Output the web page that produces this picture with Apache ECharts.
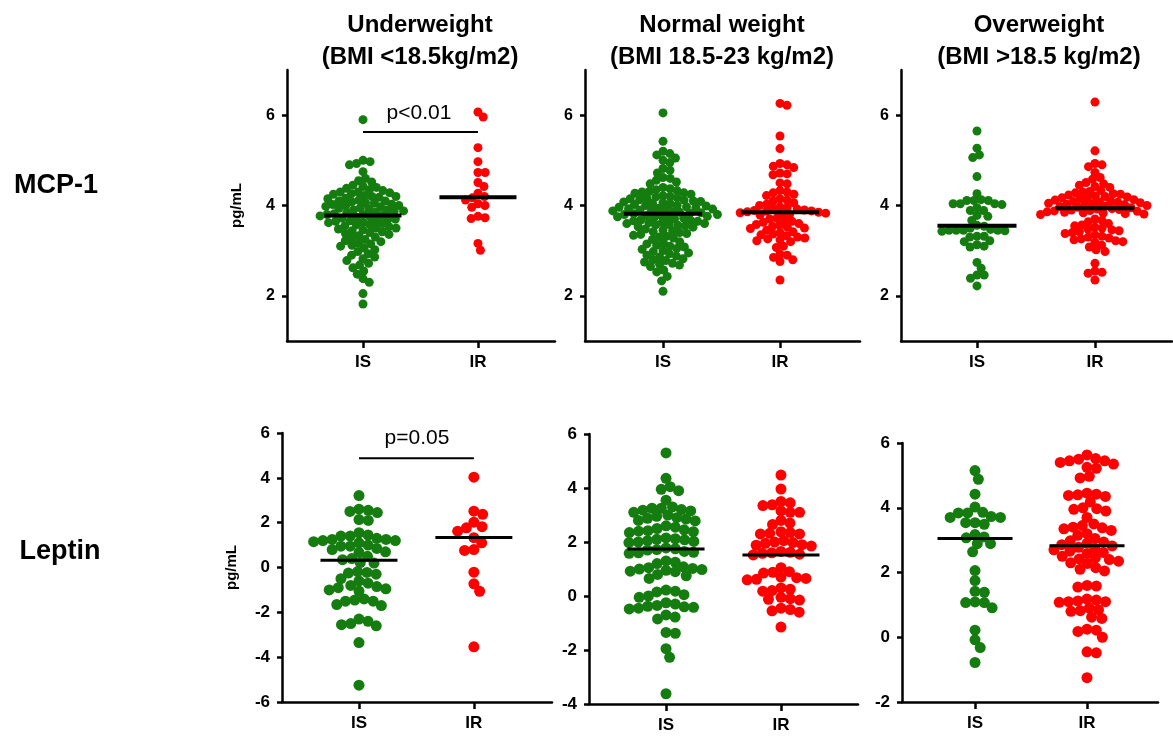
<!DOCTYPE html>
<html>
<head>
<meta charset="utf-8">
<script src="https://cdn.jsdelivr.net/npm/echarts@6/dist/echarts.min.js"></script>
<style>
html, body { margin: 0; padding: 0; background: #fff; }
#chart { width: 1173px; height: 739px; }
</style>
</head>
<body>
<div id="chart"></div>
<script>
// categories and panel titles
const groupNames = ["IS", "IR"];
const bmiTitles = [
  ["Underweight", "(BMI <18.5kg/m2)"],
  ["Normal weight", "(BMI 18.5-23 kg/m2)"],
  ["Overweight", "(BMI >18.5 kg/m2)"]
];
const markers = ["MCP-1", "Leptin"];

// MCP-1 (pg/mL)
const mcpUnderIS = [5.9, 5.0, 4.97, 4.93, 4.9, 4.75, 4.6, 4.55, 4.52, 4.45, 4.42, 4.4, 4.38, 4.35, 4.33, 4.3, 4.3, 4.28, 4.26, 4.25,
  4.22, 4.2, 4.2, 4.18, 4.16, 4.15, 4.12, 4.1, 4.1, 4.08, 4.06, 4.05, 4.03, 4.02, 4.0, 4.0, 3.98, 3.97, 3.95, 3.94, 3.92, 3.9, 3.9,
  3.88, 3.87, 3.85, 3.84, 3.82, 3.8, 3.8, 3.78, 3.77, 3.75, 3.74, 3.72, 3.7, 3.7, 3.68, 3.66, 3.65, 3.63, 3.62, 3.6, 3.58, 3.57,
  3.55, 3.53, 3.5, 3.5, 3.48, 3.46, 3.44, 3.42, 3.4, 3.38, 3.36, 3.33, 3.3, 3.28, 3.25, 3.22, 3.2, 3.17, 3.15, 3.12, 3.1, 3.06,
  3.02, 2.98, 2.93, 2.9, 2.86, 2.82, 2.78, 2.72, 2.68, 2.62, 2.55, 2.48, 2.38, 2.3, 2.05, 1.82];
const mcpUnderIR = [6.07, 5.96, 5.28, 4.97, 4.73, 4.73, 4.51, 4.42, 4.27, 4.2, 4.17, 4.12, 4.04, 4.0, 3.96, 3.76, 3.73, 3.71, 3.16, 3.01];
const mcpNormIS = [6.05, 5.42, 5.2, 5.15, 5.12, 5.05, 5.0, 4.95, 4.82, 4.78, 4.72, 4.62, 4.6, 4.56, 4.52, 4.48,
  4.4, 4.37, 4.35, 4.33, 4.31, 4.3, 4.28, 4.27, 4.25, 4.22, 4.2, 4.19, 4.17, 4.16, 4.15, 4.13, 4.12, 4.1, 4.09, 4.08, 4.06,
  4.05, 4.04, 4.02, 4.0, 4.0, 3.99, 3.97, 3.96, 3.95, 3.94, 3.93, 3.92, 3.91, 3.9, 3.89, 3.88, 3.86, 3.85, 3.84, 3.83, 3.82,
  3.8, 3.8, 3.79, 3.78, 3.76, 3.75, 3.74, 3.73, 3.72, 3.7, 3.68, 3.67, 3.66, 3.65, 3.63, 3.62, 3.6, 3.6, 3.58, 3.57, 3.56,
  3.55, 3.53, 3.52, 3.48, 3.46, 3.44, 3.42, 3.4, 3.38, 3.36, 3.34, 3.32, 3.3, 3.28, 3.25, 3.2, 3.17, 3.15, 3.12, 3.1, 3.08,
  3.05, 3.03, 3.0, 2.98, 2.95, 2.93, 2.9, 2.88, 2.86, 2.82, 2.8, 2.78, 2.75, 2.72, 2.7, 2.68, 2.65, 2.57, 2.53, 2.43, 2.33, 2.1];
const mcpNormIR = [6.26, 6.22, 5.54, 5.26, 4.93, 4.9, 4.87, 4.84, 4.72, 4.7, 4.68, 4.5, 4.48, 4.33, 4.3, 4.28, 4.25, 4.22,
  4.15, 4.12, 4.1, 4.06, 4.03, 4.0, 3.97, 3.95, 3.93, 3.92, 3.9, 3.89, 3.88, 3.87, 3.86, 3.85, 3.84, 3.83, 3.82, 3.8, 3.79,
  3.72, 3.7, 3.67, 3.65, 3.63, 3.6, 3.58, 3.56, 3.54, 3.52, 3.5, 3.49, 3.45, 3.42, 3.4, 3.37, 3.35, 3.33, 3.3, 3.28, 3.26,
  3.24, 3.22, 3.2, 3.1, 3.07, 2.92, 2.9, 2.85, 2.8, 2.76, 2.35];
const mcpOverIS = [5.65, 5.27, 5.12, 5.06, 4.64, 4.26, 4.13, 4.11, 4.11, 4.11, 4.04, 4.04, 4.04, 4.02, 3.95, 3.89, 3.89, 3.78,
  3.76, 3.67, 3.56, 3.54, 3.5, 3.47, 3.45, 3.45, 3.45, 3.44, 3.43, 3.45, 3.32, 3.32, 3.3, 3.22, 3.2, 3.13, 3.08, 3.1, 2.74,
  2.61, 2.46, 2.46, 2.39, 2.22];
const mcpOverIR = [6.29, 5.21, 4.93, 4.9, 4.86, 4.73, 4.62, 4.58, 4.51, 4.48, 4.45, 4.42, 4.4, 4.33, 4.31, 4.3, 4.28, 4.26,
  4.25, 4.23, 4.21, 4.2, 4.19, 4.17, 4.16, 4.15, 4.13, 4.12, 4.1, 4.09, 4.08, 4.07, 4.06, 4.05, 4.04, 4.03, 4.02, 4.01, 4.0,
  3.99, 3.98, 3.96, 3.95, 3.93, 3.92, 3.91, 3.9, 3.89, 3.88, 3.87, 3.86, 3.85, 3.84, 3.83, 3.82, 3.81, 3.8, 3.7, 3.67, 3.64,
  3.6, 3.57, 3.55, 3.52, 3.5, 3.48, 3.46, 3.44, 3.42, 3.4, 3.38, 3.35, 3.32, 3.3, 3.28, 3.26, 3.24, 3.22, 3.2, 3.18, 3.12,
  3.08, 3.02, 2.98, 2.72, 2.55, 2.52, 2.5, 2.35];

// Leptin (pg/mL)
const lepUnderIS = [3.21, 2.6, 2.55, 2.5, 2.45, 2.14, 2.1, 1.55, 1.45, 1.4, 1.4, 1.3, 1.25, 1.25, 1.2, 1.2, 1.15, 1.1,
  1.0, 0.95, 0.95, 0.85, 0.8, 0.7, 0.67, 0.5, 0.4, 0.35, 0.22, 0.2, -0.18, -0.22, -0.25, -0.3, -0.5, -0.6, -0.7, -0.8,
  -0.85, -0.9, -0.95, -1.0, -1.05, -1.4, -1.45, -1.5, -1.5, -1.65, -1.7, -2.3, -2.4, -2.5, -2.55, -2.6, -3.35, -5.25];
const lepUnderIR = [4.03, 2.51, 2.37, 2.02, 1.82, 1.77, 1.62, 1.33, 1.1, 0.8, 0.76, -0.21, -0.73, -1.06, -3.54];
const lepNormIS = [5.3, 4.36, 4.05, 3.95, 3.9, 3.55, 3.3, 3.25, 3.25, 3.2, 3.18, 3.15, 3.1, 3.0, 2.95, 2.9, 2.88, 2.85,
  2.8, 2.78, 2.6, 2.55, 2.5, 2.45, 2.42, 2.4, 2.38, 2.35, 2.15, 2.12, 2.1, 2.08, 2.05, 2.02, 2.0, 1.98, 1.78, 1.75, 1.72,
  1.7, 1.65, 1.62, 1.6, 1.58, 1.3, 1.25, 1.2, 1.08, 1.05, 1.02, 1.0, 0.98, 0.95, 0.92, 0.9, 0.8, 0.75, 0.65, 0.22, 0.18,
  0.15, 0.05, 0.0, -0.05, -0.25, -0.3, -0.35, -0.38, -0.4, -0.42, -0.45, -0.48, -0.7, -0.78, -0.85, -1.35, -1.38, -1.95,
  -2.27, -3.62];
const lepNormIR = [4.48, 3.96, 3.5, 3.45, 3.38, 3.35, 3.15, 3.1, 3.1, 2.8, 2.7, 2.65, 2.38, 2.35, 2.32, 2.3, 2.3, 2.05,
  2.0, 1.98, 1.95, 1.9, 1.88, 1.85, 1.65, 1.62, 1.6, 1.58, 1.55, 1.52, 1.05, 0.9, 0.88, 0.85, 0.7, 0.68, 0.65, 0.62, 0.6,
  0.3, 0.25, 0.2, 0.18, -0.05, -0.1, -0.12, -0.15, -0.45, -0.5, -0.55, -0.6, -1.15];
const lepOverIS = [5.15, 4.88, 4.42, 4.02, 3.86, 3.84, 3.84, 3.73, 3.7, 3.7, 3.54, 3.54, 3.49, 3.17, 3.1, 3.07, 2.89, 2.89,
  2.64, 2.06, 1.75, 1.42, 1.39, 1.09, 1.07, 1.07, 0.91, 0.22, -0.08, -0.32, -0.78];
const lepOverIR = [5.63, 5.52, 5.5, 5.45, 5.45, 5.4, 5.35, 5.25, 5.22, 4.97, 4.92, 4.45, 4.42, 4.4, 4.38, 4.35, 4.18, 4.0,
  3.97, 3.95, 3.9, 3.7, 3.5, 3.45, 3.4, 3.38, 3.35, 3.3, 3.2, 3.15, 3.05, 2.98, 2.94, 2.9, 2.86, 2.82, 2.78, 2.74, 2.7, 2.66,
  2.62, 2.58, 2.3, 2.28, 2.5, 2.45, 2.42, 2.4, 2.35, 2.15, 2.1, 2.05, 1.6, 1.58, 1.55, 1.18, 1.15, 1.12, 1.1, 1.1, 1.08,
  0.9, 0.85, 0.82, 0.8, 0.62, 0.58, 0.25, 0.22, 0.18, 0.0, -0.45, -0.48, -1.25];

// medians (black bars), per BMI group
const mcpMedIS = [3.78, 3.82, 3.55];
const mcpMedIR = [4.18, 3.85, 3.94];
const lepMedIS = [0.32, 1.74, 3.05];
const lepMedIR = [1.34, 1.52, 2.83];

// significance annotations (underweight panels only)
const pTexts = ["p<0.01", "p=0.05"];
const pLevels = [5.63, 4.87];

const GREEN = "#157d10";
const RED = "#ff0000";
const FONT = "Liberation Sans, Arial, sans-serif";

// panel boxes, px
const panels = [
  { left: 287, top: 70, width: 268, height: 271, xMin: -0.661, xMax: 1.67, yMin: 1, yMax: 7, dot: 9, gap: 0.8, fs: 16 },
  { left: 585, top: 70, width: 275, height: 271, xMin: -0.667, xMax: 1.684, yMin: 1, yMax: 7, dot: 9, gap: 0.8, fs: 16 },
  { left: 901, top: 70, width: 271, height: 271, xMin: -0.644, xMax: 1.653, yMin: 1, yMax: 7, dot: 9, gap: 0.8, fs: 16 },
  { left: 282, top: 433, width: 270, height: 269, xMin: -0.67, xMax: 1.68, yMin: -6, yMax: 6, dot: 11, gap: 0.85, fs: 17 },
  { left: 589, top: 434, width: 269, height: 270, xMin: -0.67, xMax: 1.67, yMin: -4, yMax: 6, dot: 11, gap: 0.85, fs: 17 },
  { left: 902, top: 443, width: 256, height: 259, xMin: -0.652, xMax: 1.634, yMin: -2, yMax: 6, dot: 11, gap: 0.85, fs: 17 }
];

const groups = [
  [mcpUnderIS, mcpUnderIR], [mcpNormIS, mcpNormIR], [mcpOverIS, mcpOverIR],
  [lepUnderIS, lepUnderIR], [lepNormIS, lepNormIR], [lepOverIS, lepOverIR]
];
const medians = [
  [mcpMedIS[0], mcpMedIR[0]], [mcpMedIS[1], mcpMedIR[1]], [mcpMedIS[2], mcpMedIR[2]],
  [lepMedIS[0], lepMedIR[0]], [lepMedIS[1], lepMedIR[1]], [lepMedIS[2], lepMedIR[2]]
];

// simple beeswarm: put each dot as close to the centre as it can go without overlapping
function swarm(values, pxX, pxY, d) {
  const order = values.map((v, i) => i).sort((a, b) => values[b] - values[a]);
  const placed = [];
  const offs = new Array(values.length);
  order.forEach(i => {
    const y = values[i] * pxY;
    const cands = [0];
    placed.forEach(p => {
      const dy = Math.abs(p.y - y);
      if (dy < d) {
        const dx = Math.sqrt(d * d - dy * dy);
        cands.push(p.x + dx, p.x - dx);
      }
    });
    cands.sort((a, b) => Math.abs(a) - Math.abs(b));
    let best = 0;
    for (const c of cands) {
      if (placed.every(p => (p.x - c) * (p.x - c) + (p.y - y) * (p.y - y) >= d * d - 0.01)) { best = c; break; }
    }
    placed.push({ x: best, y: y });
    offs[i] = best / pxX;
  });
  return offs;
}

const grids = [], xAxes = [], yAxes = [], series = [];
panels.forEach((p, i) => {
  const bottomRow = i >= 3;
  grids.push({ left: p.left, top: p.top, width: p.width, height: p.height });
  xAxes.push({
    type: "value", gridIndex: i, min: p.xMin, max: p.xMax,
    axisLine: { onZero: false, lineStyle: { color: "#000", width: 2.5 } },
    axisTick: { show: true, length: 7, lineStyle: { color: "#000", width: 2.5 }, customValues: [0, 1] },
    axisLabel: {
      customValues: [0, 1], margin: 13,
      formatter: v => groupNames[Math.round(v)],
      color: "#000", fontWeight: "bold", fontSize: 17, fontFamily: FONT
    },
    splitLine: { show: false }
  });
  const ticks = [];
  for (let t = Math.ceil(p.yMin / 2) * 2; t <= p.yMax; t += 2) ticks.push(t);
  yAxes.push({
    type: "value", gridIndex: i, min: p.yMin, max: p.yMax,
    name: (i % 3 === 0) ? "pg/mL" : "",
    nameLocation: "middle", nameRotate: 90, nameGap: 43,
    nameTextStyle: { color: "#000", fontWeight: "bold", fontSize: 15, fontFamily: FONT },
    axisLine: { show: true, onZero: false, lineStyle: { color: "#000", width: 2.5 } },
    axisTick: { show: true, length: 5, lineStyle: { color: "#000", width: 2.5 }, customValues: ticks },
    axisLabel: { customValues: ticks, margin: 12, color: "#000", fontWeight: "bold", fontSize: p.fs, fontFamily: FONT },
    splitLine: { show: false }
  });

  const pxX = p.width / (p.xMax - p.xMin);
  const pxY = p.height / (p.yMax - p.yMin);
  groups[i].forEach((vals, g) => {
    const offs = swarm(vals, pxX, pxY, p.dot * p.gap);
    series.push({
      type: "scatter", xAxisIndex: i, yAxisIndex: i,
      symbolSize: p.dot, itemStyle: { color: g === 0 ? GREEN : RED, opacity: 1 },
      data: vals.map((v, k) => [g + offs[k], v]), z: 2
    });
    series.push({
      type: "line", xAxisIndex: i, yAxisIndex: i, symbol: "none", z: 5,
      lineStyle: { color: "#000", width: bottomRow ? 3 : 4 },
      data: [[g - 0.335, medians[i][g]], [g + 0.335, medians[i][g]]]
    });
  });
  if (i % 3 === 0) {
    series.push({
      type: "line", xAxisIndex: i, yAxisIndex: i, symbol: "none", z: 5,
      lineStyle: { color: "#000", width: 2 },
      data: [[0, pLevels[i / 3]], [1, pLevels[i / 3]]]
    });
  }
});

const graphics = [];
const titleX = [420, 722, 1039];
bmiTitles.forEach((t, i) => {
  graphics.push({ type: "text", x: titleX[i], y: 25, style: { text: t[0], align: "center", verticalAlign: "middle", font: "bold 24px " + FONT, fill: "#000" } });
  graphics.push({ type: "text", x: titleX[i], y: 57, style: { text: t[1], align: "center", verticalAlign: "middle", font: "bold 24px " + FONT, fill: "#000" } });
});
graphics.push({ type: "text", x: 56, y: 186, style: { text: markers[0], align: "center", verticalAlign: "middle", font: "bold 27px " + FONT, fill: "#000" } });
graphics.push({ type: "text", x: 60, y: 552, style: { text: markers[1], align: "center", verticalAlign: "middle", font: "bold 27px " + FONT, fill: "#000" } });
graphics.push({ type: "text", x: 419, y: 113, style: { text: pTexts[0], align: "center", verticalAlign: "middle", font: "21px " + FONT, fill: "#000" } });
graphics.push({ type: "text", x: 417, y: 438, style: { text: pTexts[1], align: "center", verticalAlign: "middle", font: "21px " + FONT, fill: "#000" } });

const chart = echarts.init(document.getElementById("chart"));
chart.setOption({
  animation: false,
  backgroundColor: "#fff",
  grid: grids,
  xAxis: xAxes,
  yAxis: yAxes,
  series: series,
  graphic: graphics
});
</script>
</body>
</html>
